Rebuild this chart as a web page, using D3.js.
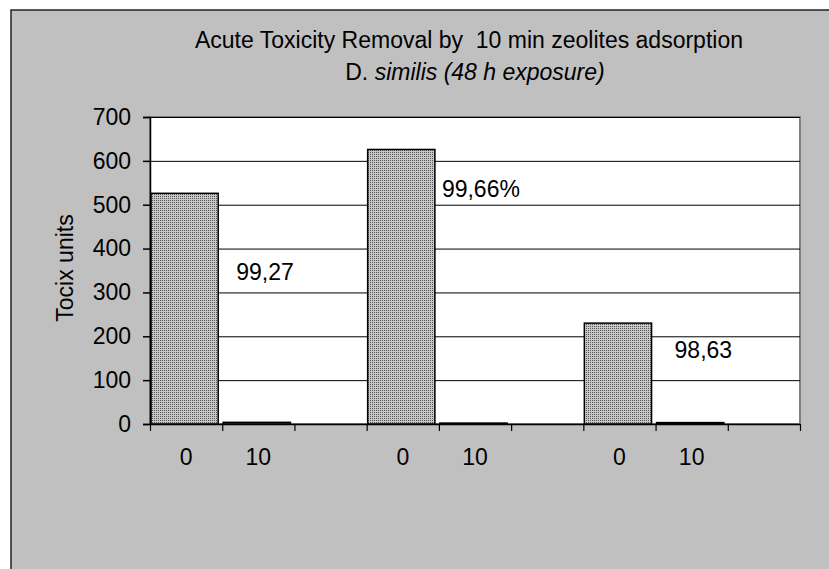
<!DOCTYPE html>
<html lang="en">
<head>
    <meta charset="utf-8">
    <title>Acute Toxicity Removal</title>
    <script src="https://d3js.org/d3.v7.min.js"></script>
    <style>
        body { margin: 0; background: #fff; }
        text { font-family: "Liberation Sans", Arial, sans-serif; fill: #000; }
    </style>
</head>
<body>
    <svg width="829" height="569" id="chart"></svg>
    <script>
        // categories along the x axis (contact time, min) - 3 groups, last slot of each is empty
        var categories = ["0", "10", "", "0", "10", "", "0", "10", ""];
        // toxic units
        var toxicUnits = [526, 3.8, null, 626, 2.1, null, 230, 3.2, null];
        var yTicks = [0, 100, 200, 300, 400, 500, 600, 700];
        // removal notes (text, slot they sit in, level in toxic units)
        var noteText = ["99,27", "99,66%", "98,63"];
        var noteSlot = [1, 4, 7];
        var noteLevel = [329, 517, 151];
        var noteShift = [14, 3, 19];

        function main() {
            var svg = d3.select("#chart"),
                fs = "23px";

            // chart area background + border
            svg.append("rect")
                .attr("x", 11).attr("y", 10)
                .attr("width", 830).attr("height", 570)
                .attr("fill", "#c0c0c0")
                .attr("stroke", "#222")
                .attr("stroke-width", 1.5);

            var pLeft = 150, pRight = 800, pTop = 117, pBottom = 424;

            var x = d3.scaleBand()
                .domain(d3.range(categories.length))
                .range([pLeft, pRight])
                .padding(0);
            var xEdge = d3.scaleLinear().domain([0, categories.length]).range([pLeft, pRight]);
            var y = d3.scaleLinear().domain([0, 700]).range([pBottom, pTop]);

            // dotted fill like the excel pattern
            var pat = svg.append("defs").append("pattern")
                .attr("id", "dots")
                .attr("patternUnits", "userSpaceOnUse")
                .attr("width", 2).attr("height", 2);
            pat.append("rect").attr("width", 2).attr("height", 2).attr("fill", "#c8c8c8");
            pat.append("rect").attr("width", 1).attr("height", 1).attr("fill", "#555");

            // plot area
            svg.append("rect")
                .attr("x", pLeft).attr("y", pTop)
                .attr("width", pRight - pLeft).attr("height", pBottom - pTop)
                .attr("fill", "#fff")
                .attr("stroke", "#808080")
                .attr("stroke-width", 2);

            // gridlines
            svg.append("g")
                .attr("transform", "translate(" + pLeft + ",0)")
                .call(d3.axisLeft(y).tickValues(yTicks.slice(1)).tickSize(-(pRight - pLeft)).tickFormat(""))
                .call(function (g) { g.select(".domain").remove(); })
                .selectAll("line")
                .attr("stroke", "#000")
                .attr("stroke-width", 1);

            // bars
            svg.append("g").selectAll("rect")
                .data(toxicUnits.map(function (v, i) { return { i: i, v: v }; }).filter(function (d) { return d.v != null; }))
                .enter().append("rect")
                .attr("x", function (d) { return x(d.i) + 1; })
                .attr("y", function (d) { return y(d.v); })
                .attr("width", x.bandwidth() - 5)
                .attr("height", function (d) { return y(0) - y(d.v); })
                .attr("fill", "url(#dots)")
                .attr("stroke", "#000")
                .attr("stroke-width", 1.5);

            // y axis
            var yAxis = svg.append("g")
                .attr("transform", "translate(" + pLeft + ",0)")
                .call(d3.axisLeft(y).tickValues(yTicks).tickSize(7).tickPadding(12));
            yAxis.selectAll("text").attr("font-size", fs).attr("font-family", null);
            yAxis.selectAll("line, path").attr("stroke", "#000").attr("stroke-width", 1.5);

            // x axis: ticks at slot edges, labels in the middle of slots
            var xTickAxis = svg.append("g")
                .attr("transform", "translate(0," + pBottom + ")")
                .call(d3.axisBottom(xEdge).ticks(categories.length).tickSize(7).tickFormat(""));
            xTickAxis.select(".domain").remove();
            xTickAxis.selectAll("line").attr("stroke", "#000").attr("stroke-width", 1.2);

            var xAxis = svg.append("g")
                .attr("transform", "translate(0," + pBottom + ")")
                .call(d3.axisBottom(x).tickSize(0).tickFormat(function (i) { return categories[i]; }));
            xAxis.select(".domain").attr("stroke", "#000").attr("stroke-width", 1.5);
            xAxis.selectAll("text")
                .attr("font-size", fs).attr("font-family", null)
                .attr("y", 41).attr("dy", 0);

            // removal notes
            svg.append("g").selectAll("text")
                .data(noteText)
                .enter().append("text")
                .attr("x", function (d, i) { return x(noteSlot[i]) + noteShift[i]; })
                .attr("y", function (d, i) { return y(noteLevel[i]); })
                .attr("font-size", fs)
                .text(function (d) { return d; });

            // title
            svg.append("text")
                .attr("x", 469).attr("y", 48)
                .attr("text-anchor", "middle")
                .attr("font-size", fs)
                .style("white-space", "pre")
                .text("Acute Toxicity Removal by  10 min zeolites adsorption");
            var t2 = svg.append("text")
                .attr("x", 475).attr("y", 80)
                .attr("text-anchor", "middle")
                .attr("font-size", fs);
            t2.append("tspan").text("D. ");
            t2.append("tspan").attr("font-style", "italic").text("similis (48 h exposure)");

            // y label
            svg.append("text")
                .attr("transform", "translate(73,268) rotate(-90)")
                .attr("text-anchor", "middle")
                .attr("font-size", fs)
                .text("Tocix units");
        }
        main();
    </script>
</body>
</html>
